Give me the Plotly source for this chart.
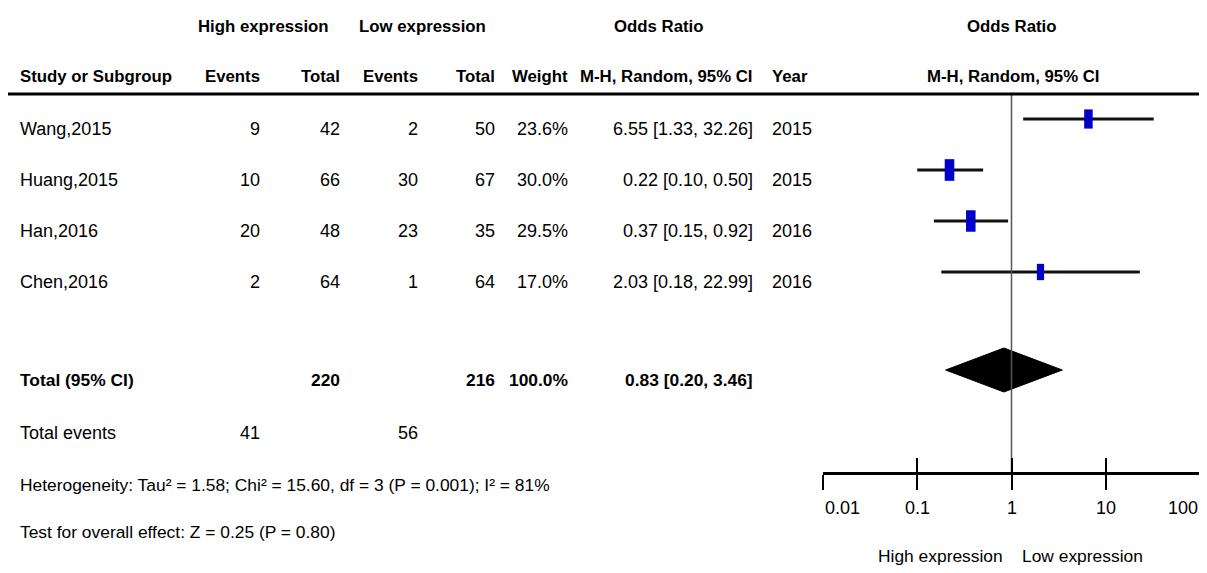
import math
import plotly.graph_objects as go

# ---------------- data ----------------
studies = ["Wang,2015", "Huang,2015", "Han,2016", "Chen,2016"]
high_events = [9, 10, 20, 2]
high_total = [42, 66, 48, 64]
low_events = [2, 30, 23, 1]
low_total = [50, 67, 35, 64]
weights = [23.6, 30.0, 29.5, 17.0]
or_est = [6.55, 0.22, 0.37, 2.03]
ci_lo = [1.33, 0.10, 0.15, 0.18]
ci_hi = [32.26, 0.50, 0.92, 22.99]
years = [2015, 2015, 2016, 2016]

total_high = 220
total_low = 216
total_weight = 100.0
total_or = 0.83
total_lo = 0.20
total_hi = 3.46
total_events_high = 41
total_events_low = 56

heterogeneity = "Heterogeneity: Tau² = 1.58; Chi² = 15.60, df = 3 (P = 0.001); I² = 81%"
overall = "Test for overall effect: Z = 0.25 (P = 0.80)"

tick_vals = [0.01, 0.1, 1, 10, 100]
tick_text = ["0.01", "0.1", "1", "10", "100"]
favours = ["High expression", "Low expression"]

# ---------------- layout constants ----------------
OFF = 8                      # page body margin
W, H = 1207 - OFF, 573 - OFF
FONT = "Liberation Sans, Arial, sans-serif"
FS = 18
FS_HEAD = 16.8
FS_FOOT = 17.4
AX_Y = 473
row_y = [129, 180, 231, 282]
ci_y = [y - 10 for y in row_y]
total_y = 380
diamond_y = 370
events_y = 433
het_y = 485
test_y = 532


def px(x):
    return (x - OFF) / W


def py(y):
    return y - OFF


fig = go.Figure()

# CI lines
xs, ys = [], []
for lo, hi, y in zip(ci_lo, ci_hi, ci_y):
    xs += [lo, hi, None]
    ys += [py(y), py(y), None]
fig.add_trace(go.Scatter(x=xs, y=ys, mode="lines",
                         line=dict(color="#111111", width=3),
                         hoverinfo="skip"))

# point estimate boxes (size ~ sqrt(weight))
for e, w, y in zip(or_est, weights, ci_y):
    h = 3.95 * math.sqrt(w)
    fig.add_trace(go.Scatter(
        x=[e, e], y=[py(y) - h / 2, py(y) + h / 2], mode="lines",
        line=dict(color="#0000C8", width=1.75 * math.sqrt(w)),
        hoverinfo="skip"))

# diamond
fig.add_trace(go.Scatter(
    x=[total_lo, total_or, total_hi, total_or, total_lo],
    y=[py(diamond_y), py(diamond_y) - 22, py(diamond_y), py(diamond_y) + 22, py(diamond_y)],
    mode="lines", fill="toself", fillcolor="black",
    line=dict(color="black", width=1), hoverinfo="skip"))

# null line (on overlay axis)
fig.add_trace(go.Scatter(x=[1, 1], y=[py(95), py(AX_Y)], mode="lines", xaxis="x2",
                         line=dict(color="#555555", width=1.5), hoverinfo="skip"))

annotations = []


def txt(x, y, s, anchor="left", bold=False, xref="paper", size=FS):
    annotations.append(dict(
        x=px(x) if xref == "paper" else x, y=py(y), xref=xref, yref="y",
        text=f"<b>{s}</b>" if bold else s, showarrow=False,
        xanchor=anchor, yanchor="middle",
        font=dict(family=FONT, size=size, color="black")))


# headers
hd = dict(bold=True, size=FS_HEAD)
txt(263, 26, "High expression", "center", **hd)
txt(422, 26, "Low expression", "center", **hd)
txt(659, 26, "Odds Ratio", "center", **hd)
txt(1012, 26, "Odds Ratio", "center", **hd)
txt(18, 76, "Study or Subgroup", "left", **hd)
txt(262, 76, "Events", "right", **hd)
txt(342, 76, "Total", "right", **hd)
txt(420, 76, "Events", "right", **hd)
txt(497, 76, "Total", "right", **hd)
txt(570, 76, "Weight", "right", **hd)
txt(755, 76, "M-H, Random, 95% CI", "right", **hd)
txt(770, 76, "Year", "left", **hd)
txt(1013, 76, "M-H, Random, 95% CI", "center", **hd)

# study rows
for i, y in enumerate(row_y):
    txt(18, y, studies[i], "left")
    txt(262, y, str(high_events[i]), "right")
    txt(342, y, str(high_total[i]), "right")
    txt(420, y, str(low_events[i]), "right")
    txt(497, y, str(low_total[i]), "right")
    txt(570, y, f"{weights[i]:.1f}%", "right")
    txt(755, y, f"{or_est[i]:.2f} [{ci_lo[i]:.2f}, {ci_hi[i]:.2f}]", "right")
    txt(770, y, str(years[i]), "left")

# totals
txt(18, total_y, "Total (95% CI)", "left", bold=True, size=FS_FOOT)
txt(342, total_y, str(total_high), "right", bold=True, size=FS_FOOT)
txt(497, total_y, str(total_low), "right", bold=True, size=FS_FOOT)
txt(570, total_y, f"{total_weight:.1f}%", "right", bold=True, size=FS_FOOT)
txt(755, total_y, f"{total_or:.2f} [{total_lo:.2f}, {total_hi:.2f}]", "right", bold=True, size=FS_FOOT)

txt(18, events_y, "Total events", "left")
txt(262, events_y, str(total_events_high), "right")
txt(420, events_y, str(total_events_low), "right")
txt(18, het_y, heterogeneity, "left", size=FS_FOOT)
txt(18, test_y, overall, "left", size=FS_FOOT)

# tick labels
anchors = ["left", "center", "center", "center", "right"]
for v, t, a in zip(tick_vals, tick_text, anchors):
    txt(math.log10(v), 508, t, a, xref="x")

# favours labels
txt(1005, 556, favours[0], "right", size=FS_FOOT)
txt(1020, 556, favours[1], "left", size=FS_FOOT)

shapes = [
    dict(type="line", xref="paper", yref="y", x0=px(6), x1=1, y0=py(94), y1=py(94),
         line=dict(color="black", width=3)),
]

dom = [px(823), px(1200)]
pos = (H - py(AX_Y)) / H
fig.update_layout(
    width=W, height=H, margin=dict(l=0, r=0, t=0, b=0),
    paper_bgcolor="white", plot_bgcolor="white", showlegend=False,
    annotations=annotations, shapes=shapes,
    xaxis=dict(type="log", range=[-2, 2], domain=dom, anchor="free", position=pos,
               showline=True, linecolor="black", linewidth=2.5,
               ticks="outside", ticklen=15, tickwidth=2, tickcolor="black",
               tickvals=tick_vals, showticklabels=False,
               showgrid=False, zeroline=False, fixedrange=True),
    xaxis2=dict(type="log", range=[-2, 2], domain=dom, anchor="free", position=pos,
                overlaying="x", showline=False,
                ticks="inside", ticklen=15, tickwidth=2, tickcolor="black",
                tickvals=tick_vals, showticklabels=False,
                showgrid=False, zeroline=False, fixedrange=True),
    yaxis=dict(range=[H, 0], domain=[0, 1], visible=False, fixedrange=True),
)

fig.write_html("out.html")
